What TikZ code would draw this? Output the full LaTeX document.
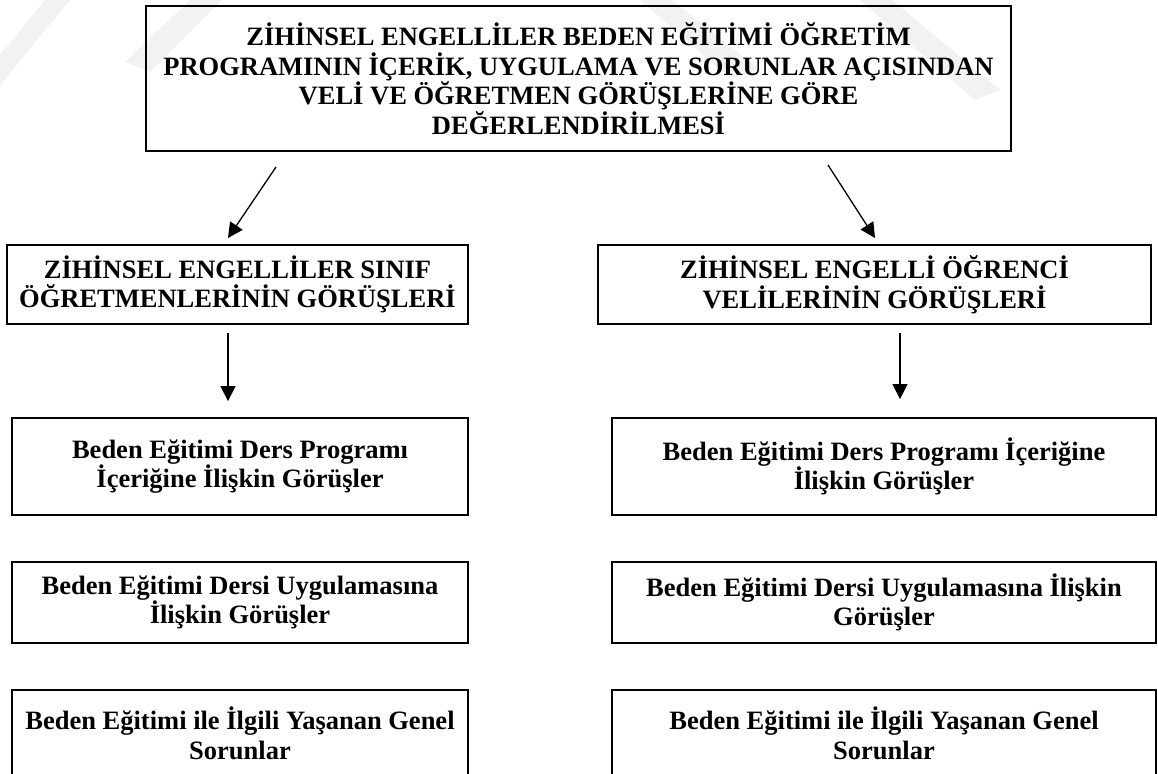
\documentclass[tikz,border=0pt]{standalone}
\usepackage{fontspec}
\setmainfont{Liberation Serif}
\usetikzlibrary{arrows.meta}
\tikzset{
  box/.style={draw=black, line width=1.8pt, inner sep=0pt, align=center,
    font=\bfseries\fontsize{26.5}{29.5}\selectfont, anchor=center},
  arr/.style={line width=1.3pt, -{Triangle[length=15pt,width=15pt]}},
  wmark/.style={fill=black!5, draw=none}
}
\begin{document}
\begin{tikzpicture}[x=1pt,y=-1pt]
\useasboundingbox (0,0) rectangle (1158,773);
\fill[white] (0,0) rectangle (1158,773);
\clip (0,0) rectangle (1158,773);

% faint watermark bands
\fill[wmark] (0,55) -- (45,0) -- (70,0) -- (0,85) -- cycle;
\fill[wmark] (125,62) -- (190,0) -- (222,0) -- (150,72) -- cycle;
\fill[wmark] (640,0) -- (672,0) -- (760,70) -- (730,78) -- cycle;
\fill[wmark] (860,0) -- (892,0) -- (1000,90) -- (975,100) -- cycle;

\node[box, minimum width=865pt, minimum height=145pt] (top) at (578.5,78.5)
  {ZİHİNSEL ENGELLİLER BEDEN EĞİTİMİ ÖĞRETİM\\
   PROGRAMININ İÇERİK, UYGULAMA VE SORUNLAR AÇISINDAN\\
   VELİ VE ÖĞRETMEN GÖRÜŞLERİNE GÖRE\\
   DEĞERLENDİRİLMESİ};

\node[box, minimum width=461pt, minimum height=79pt] (lm) at (237.5,284.5)
  {ZİHİNSEL ENGELLİLER SINIF\\ ÖĞRETMENLERİNİN GÖRÜŞLERİ};
\node[box, minimum width=553pt, minimum height=79pt] (rm) at (874.5,284.5)
  {ZİHİNSEL ENGELLİ ÖĞRENCİ\\ VELİLERİNİN GÖRÜŞLERİ};

\node[box, minimum width=456pt, minimum height=97pt] (lb1) at (240,466.5)
  {Beden Eğitimi Ders Programı\\ İçeriğine İlişkin Görüşler};
\node[box, minimum width=544pt, minimum height=97pt] (rb1) at (884,466.5)
  {Beden Eğitimi Ders Programı İçeriğine\\ İlişkin Görüşler};

\node[box, minimum width=456pt, minimum height=81pt] (lb2) at (240,602.5)
  {Beden Eğitimi Dersi Uygulamasına\\ İlişkin Görüşler};
\node[box, minimum width=544pt, minimum height=81pt] (rb2) at (884,602.5)
  {Beden Eğitimi Dersi Uygulamasına İlişkin\\ Görüşler};

\node[box, minimum width=456pt, minimum height=87pt] (lb3) at (240,733.5)
  {Beden Eğitimi ile İlgili Yaşanan Genel\\ Sorunlar};
\node[box, minimum width=544pt, minimum height=87pt] (rb3) at (884,733.5)
  {Beden Eğitimi ile İlgili Yaşanan Genel\\ Sorunlar};

% connector end points
\coordinate (tls) at (276,167);
\coordinate (tle) at (228,238);
\coordinate (trs) at (828,165);
\coordinate (tre) at (875,238);
\coordinate (lx) at (228,0);
\coordinate (rx) at (900,0);

\draw[arr] (tls) -- (tle);
\draw[arr] (trs) -- (tre);
\draw[arr, shorten <=8pt, shorten >=16pt] (lm.south -| lx) -- (lb1.north -| lx);
\draw[arr, shorten <=8pt, shorten >=18pt] (rm.south -| rx) -- (rb1.north -| rx);
\end{tikzpicture}
\end{document}
